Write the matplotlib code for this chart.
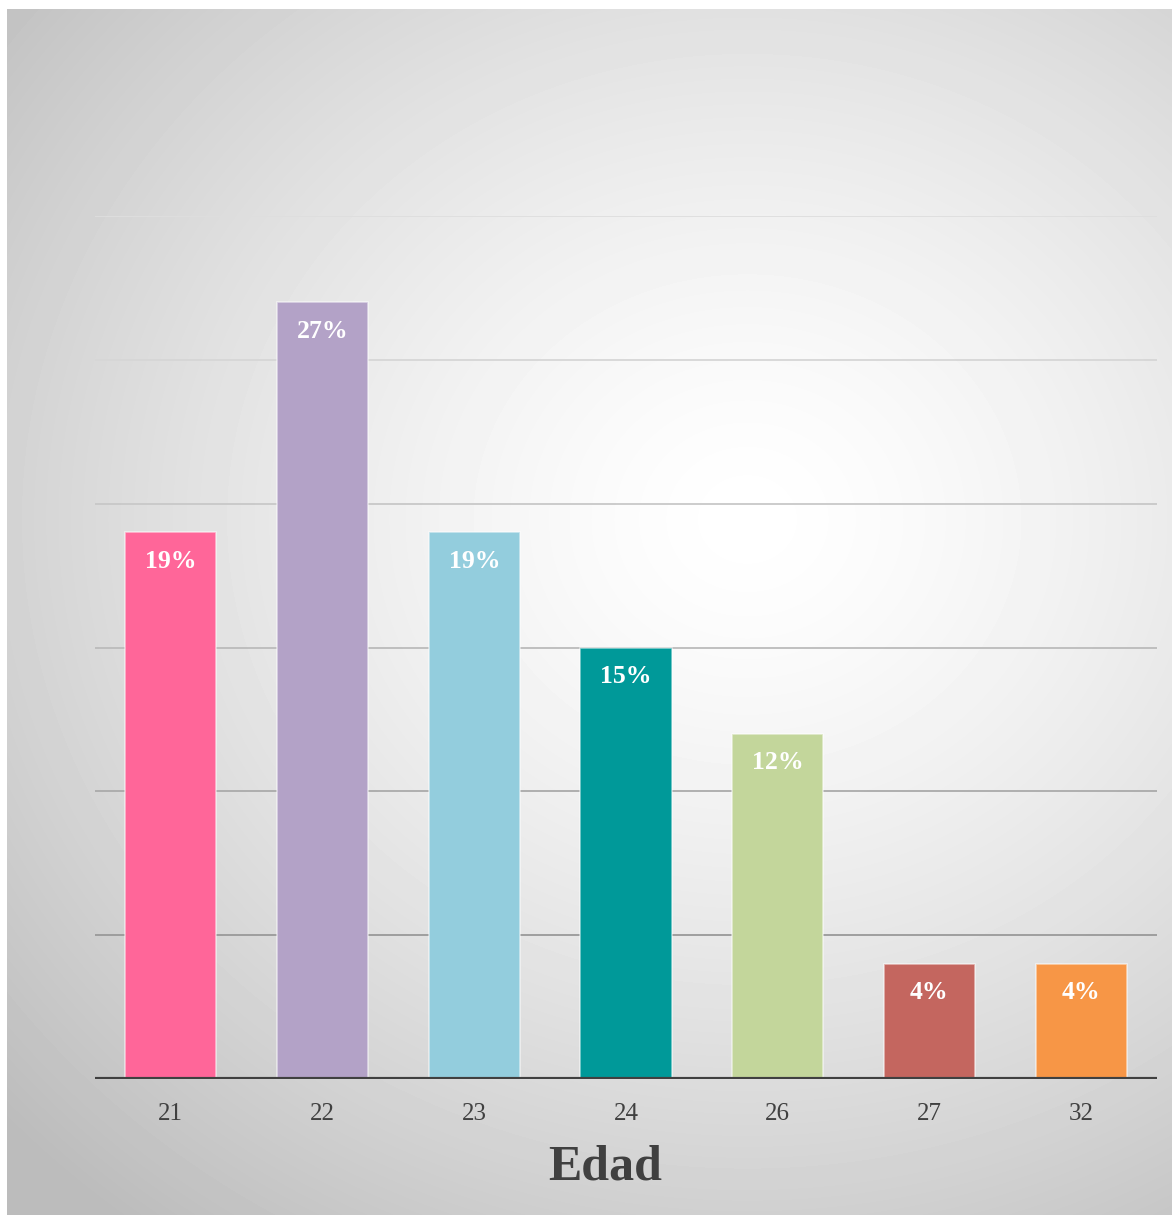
import numpy as np
import matplotlib.pyplot as plt

edades = ["21", "22", "23", "24", "26", "27", "32"]
porcentajes = [19, 27, 19, 15, 12, 4, 4]
colores = ["#FF6699", "#B3A2C7", "#93CDDD", "#009999", "#C3D69B", "#C4665F", "#F79646"]
grid_vals = [5, 10, 15, 20, 25, 30]
grid_cols = ["#999999", "#aaaaaa", "#bbbbbb", "#c8c8c8", "#d6d6d6", "#dedede"]

W, H = 1172, 1215
fig = plt.figure(figsize=(W / 100, H / 100), dpi=100)

# fondo con degradado radial
bg = fig.add_axes([7 / W, 0, 1 - 7 / W, 1 - 9 / H])
bg.set_axis_off()
yy, xx = np.mgrid[0:H - 9, 0:W - 7]
cx, cy = 740, 510
d = np.sqrt(((xx - cx) / 950.0) ** 2 + ((yy - cy) / 850.0) ** 2)
g = 1.0 - 0.245 * np.clip(d, 0, 1.05) ** 1.4
bg.imshow(g, cmap="gray", vmin=0, vmax=1, aspect="auto",
          extent=[0, 1, 0, 1], interpolation="bilinear")
bg.set_xlim(0, 1)
bg.set_ylim(0, 1)

ax = fig.add_axes([95 / W, 1 - 1079 / H, 1062 / W, (1079 - 216) / H])
ax.patch.set_alpha(0)
for sp in ax.spines.values():
    sp.set_visible(False)

for v, c in zip(grid_vals, grid_cols):
    ax.axhline(v, color=c, lw=1.3, zorder=1)

x = np.arange(len(edades))
bars = ax.bar(x, porcentajes, width=0.6, color=colores,
              edgecolor=(1, 1, 1, 0.55), linewidth=1.2, zorder=2)

for b, v in zip(bars, porcentajes):
    ax.text(b.get_x() + b.get_width() / 2, v - 1.0, f"{v}%",
            ha="center", va="center", color="white", fontsize=18.5,
            fontweight="bold", family="Liberation Serif", zorder=3)

ax.axhline(0, color="#404040", lw=3, zorder=4)
ax.set_xlim(-0.5, len(edades) - 0.5)
ax.set_ylim(0, 30)
ax.set_yticks([])
ax.set_xticks(x)
ax.set_xticklabels(edades, family="Liberation Serif", fontsize=18, color="#404040")
ax.tick_params(axis="x", length=0, pad=17)

fig.text(605 / W, 1 - 1168 / H, "Edad", family="Liberation Serif", fontsize=36,
         fontweight="bold", color="#404040", ha="center", va="center")

fig.savefig("out.png", dpi=100)
